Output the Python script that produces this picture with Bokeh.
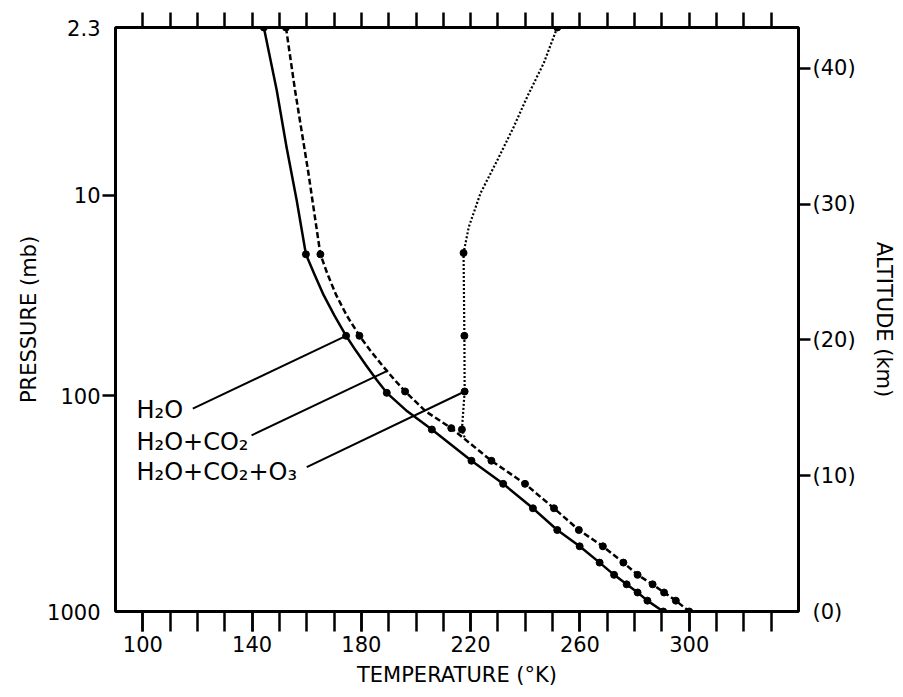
from bokeh.plotting import figure
from bokeh.models import Range1d, LinearAxis, FixedTicker
from bokeh.core.properties import value
from bokeh.embed import file_html
from bokeh.resources import INLINE

FONT = "DejaVu Sans"

# ---- data: temperature (K) against altitude (km) ----
# H2O (solid)
h2o_temp = [144.3, 149.0, 152.6, 156.3, 159.7, 162.8, 166.2, 170.1, 174.4, 177.9, 181.7, 185.7,
            189.3, 196.8, 205.8, 220.3, 231.9, 242.8, 251.7, 259.9, 267.2, 272.5, 277.1,
            281.1, 284.7, 290.5]
h2o_alt = [43.0, 38.4, 34.2, 30.3, 26.3, 24.84, 23.29, 21.81, 20.3, 19.23, 18.13, 17.02,
           16.1, 14.74, 13.4, 11.1, 9.4, 7.6, 6.0, 4.8, 3.6, 2.7, 2.0, 1.4, 0.8, 0.0]
h2o_dot_temp = [144.3, 159.7, 174.4, 189.3, 205.8, 220.3, 231.9, 242.8, 251.7, 259.9, 267.2,
                272.5, 277.1, 281.1, 284.7, 290.5]
h2o_dot_alt = [43.0, 26.3, 20.3, 16.1, 13.4, 11.1, 9.4, 7.6, 6.0, 4.8, 3.6, 2.7, 2.0, 1.4, 0.8, 0.0]

# H2O + CO2 (dashed)
co2_temp = [152.4, 155.7, 160.6, 165.0, 167.6, 170.8, 174.6, 179.3, 183.2, 187.6, 192.3,
            196.0, 203.6, 212.9, 227.6, 239.9, 250.5, 259.6, 268.4, 275.9, 281.1, 286.6,
            290.8, 295.1, 300.0]
co2_alt = [43.0, 38.4, 32.3, 26.3, 24.84, 23.29, 21.81, 20.3, 19.23, 18.13, 17.02,
           16.2, 14.73, 13.5, 11.1, 9.4, 7.6, 6.0, 4.8, 3.6, 2.7, 2.0, 1.4, 0.8, 0.0]
co2_dot_temp = [152.4, 165.0, 179.3, 196.0, 212.9, 227.6, 239.9, 250.5, 259.6, 268.4, 275.9,
                281.1, 286.6, 290.8, 295.1, 300.0]
co2_dot_alt = [43.0, 26.3, 20.3, 16.2, 13.5, 11.1, 9.4, 7.6, 6.0, 4.8, 3.6, 2.7, 2.0, 1.4, 0.8, 0.0]

# H2O + CO2 + O3 (dotted)
o3_temp = [251.7, 246.8, 240.7, 235.8, 229.7, 223.6, 219.3, 217.4, 217.7, 217.8, 216.8, 218.0]
o3_alt = [43.0, 40.4, 37.9, 35.7, 33.2, 30.8, 28.3, 26.4, 20.3, 16.2, 13.4, 12.7]
o3_dot_temp = [251.7, 217.4, 217.7, 217.8, 216.8]
o3_dot_alt = [43.0, 26.4, 20.3, 16.2, 13.4]

# curve labels and their leader lines
label_text = ["H\u2082O", "H\u2082O+CO\u2082", "H\u2082O+CO\u2082+O\u2083"]
label_temp = [97.7, 97.7, 97.7]
label_alt = [14.8, 12.5, 10.3]
leader_start_temp = [118.3, 139.8, 160.0]
leader_start_alt = [14.94, 12.97, 10.63]
leader_end_temp = [174.4, 189.3, 217.8]
leader_end_alt = [20.3, 17.7, 16.2]

# axes
temp_ticks = list(range(100, 340, 10))
temp_labels = [100, 140, 180, 220, 260, 300]
pressure_labels = ["2.3", "10", "100", "1000"]
pressure_tick_alt = [43.0, 30.65, 15.9, 0.0]
altitude_ticks = [0, 10, 20, 30, 40]

# ---- figure ----
p = figure(width=900, height=695, x_range=Range1d(90, 340), y_range=Range1d(0, 43),
           output_backend="svg", toolbar_location=None,
           min_border_left=115, min_border_right=102, min_border_top=27, min_border_bottom=84,
           background_fill_color="white", border_fill_color="white")
p.xgrid.visible = False
p.ygrid.visible = False
p.outline_line_color = "black"
p.outline_line_width = 3

def style_common(ax):
    ax.axis_line_color = None
    ax.major_tick_line_color = "black"
    ax.major_tick_line_width = 2.5
    ax.minor_tick_line_color = "black"
    ax.minor_tick_line_width = 2.5
    ax.major_tick_in = 0
    ax.minor_tick_in = 0
    ax.major_label_text_font = FONT
    ax.major_label_text_font_size = "21px"
    ax.major_label_text_color = "black"
    ax.axis_label_text_font = FONT
    ax.axis_label_text_font_size = "21px"
    ax.axis_label_text_font_style = "normal"
    ax.axis_label_text_color = "black"

# bottom axis: labelled ticks are major, the rest minor (same length)
xb = p.xaxis[0]
style_common(xb)
xb.ticker = FixedTicker(ticks=temp_labels, minor_ticks=temp_ticks)
xb.major_tick_out = 20
xb.minor_tick_out = 20
xb.major_label_standoff = 4
xb.axis_label = "TEMPERATURE (\u00b0K)"
xb.axis_label_standoff = 8

# top axis (ticks only, no labels)
xt = LinearAxis(ticker=FixedTicker(ticks=[], minor_ticks=temp_ticks))
style_common(xt)
xt.major_tick_out = 15
xt.minor_tick_out = 15
xt.major_label_standoff = 0
p.add_layout(xt, "above")

# left axis: pressure
yl = p.yaxis[0]
style_common(yl)
yl.ticker = FixedTicker(ticks=pressure_tick_alt, minor_ticks=pressure_tick_alt[1:3])
yl.major_label_overrides = {a: s for a, s in zip(pressure_tick_alt, pressure_labels)}
yl.major_tick_out = 0
yl.minor_tick_out = 13
yl.major_label_standoff = 2
yl.axis_label = "PRESSURE (mb)"
yl.axis_label_standoff = 3

# right axis: altitude
yr = LinearAxis(ticker=FixedTicker(ticks=altitude_ticks, minor_ticks=altitude_ticks[1:]))
style_common(yr)
yr.major_label_overrides = {a: "(%d)" % a for a in altitude_ticks}
yr.major_tick_out = 0
yr.minor_tick_out = 12
yr.major_label_standoff = 2
yr.axis_label = "ALTITUDE (km)"
yr.axis_label_standoff = 13
p.add_layout(yr, "right")

# ---- curves ----
p.line(h2o_temp, h2o_alt, line_color="black", line_width=2.5, line_join="round")
p.scatter(h2o_dot_temp, h2o_dot_alt, size=7, color="black")

p.line(co2_temp, co2_alt, line_color="black", line_width=2.5, line_dash="6 3", line_join="round")
p.scatter(co2_dot_temp, co2_dot_alt, size=7, color="black")

p.line(o3_temp, o3_alt, line_color="black", line_width=2.2, line_dash="2 2")
p.scatter(o3_dot_temp, o3_dot_alt, size=7, color="black")

# leader lines and labels
p.segment(x0=leader_start_temp, y0=leader_start_alt, x1=leader_end_temp, y1=leader_end_alt,
          line_color="black", line_width=2)
p.text(x=label_temp, y=label_alt, text=label_text, text_font=value(FONT),
       text_font_size="24px", text_baseline="middle", text_align="left", text_color="black")

open("out.html", "w").write(file_html(p, INLINE))
